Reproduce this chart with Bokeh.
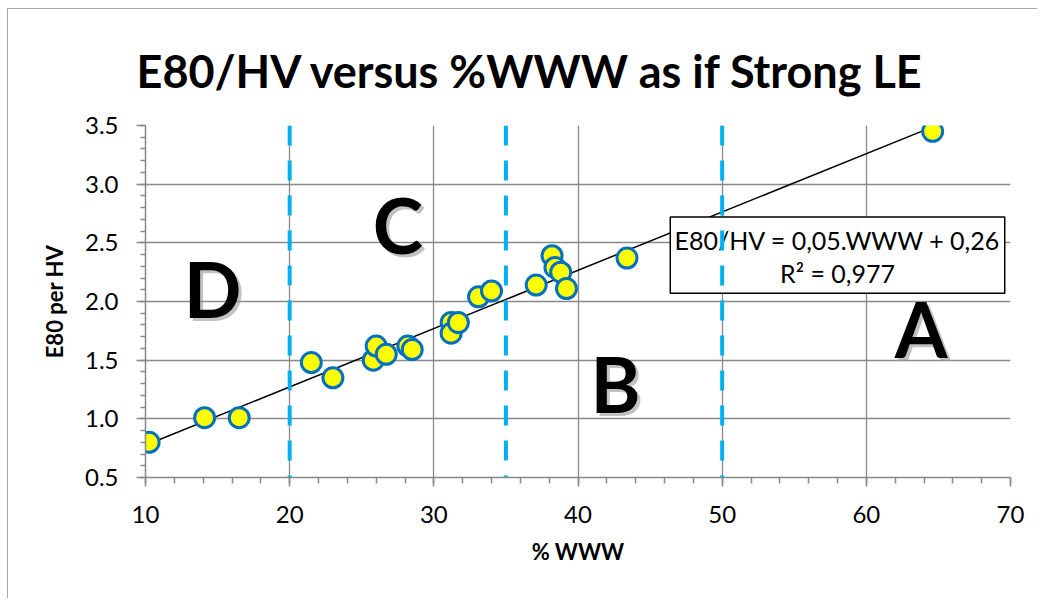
from bokeh.plotting import figure
from bokeh.models import (FixedTicker, PrintfTickFormatter, Span, BoxAnnotation,
                          Label, Range1d, Title)
from bokeh.embed import file_html
from bokeh.resources import INLINE

# ---------------- data ----------------
www_pct = [10.25, 14.1, 16.5, 21.5, 23.0, 25.8, 26.0, 26.7, 28.2, 28.5,
           31.2, 31.2, 31.7, 33.1, 34.0, 37.1, 38.2, 38.4, 38.8, 39.2,
           43.4, 64.6]
e80_per_hv = [0.80, 1.01, 1.01, 1.48, 1.35, 1.50, 1.62, 1.55, 1.62, 1.59,
              1.82, 1.73, 1.82, 2.04, 2.09, 2.14, 2.39, 2.29, 2.25, 2.11,
              2.37, 3.45]

x_ticks = [10, 20, 30, 40, 50, 60, 70]
x_minor_ticks = [10, 12, 14, 16, 18, 20, 22, 24, 26, 28, 30, 32, 34, 36, 38, 40,
                 42, 44, 46, 48, 50, 52, 54, 56, 58, 60, 62, 64, 66, 68, 70]
y_ticks = [0.5, 1.0, 1.5, 2.0, 2.5, 3.0, 3.5]
y_minor_ticks = [0.5, 0.6, 0.7, 0.8, 0.9, 1.0, 1.1, 1.2, 1.3, 1.4, 1.5, 1.6,
                 1.7, 1.8, 1.9, 2.0, 2.1, 2.2, 2.3, 2.4, 2.5, 2.6, 2.7, 2.8,
                 2.9, 3.0, 3.1, 3.2, 3.3, 3.4, 3.5]

class_bounds = [20, 35, 50]
class_names = ["D", "C", "B", "A"]

# trendline coefficients
trend_slope = 0.0497
trend_intercept = 0.278

title_text = "E80/HV versus %WWW as if Strong LE"
x_label = "% WWW"
y_label = "E80 per HV"
eq_text = "E80/HV = 0,05.WWW + 0,26"
r2_text = "R\u00b2 = 0,977"

# ---------------- layout / style ----------------
FONT = "Lato"
GRID = "#898989"
class_label_pos = [(14.65, 2.11), (27.5, 2.66), (42.6, 1.30), (63.8, 1.77)]
eq_box = dict(left=46.4, right=69.6, bottom=2.07, top=2.72)

p = figure(width=1030, height=590,
           x_range=Range1d(10, 70), y_range=Range1d(0.5, 3.5),
           output_backend="svg", toolbar_location=None,
           min_border_left=137, min_border_right=28,
           min_border_top=116, min_border_bottom=122,
           x_axis_label=x_label, y_axis_label=y_label)
p.outline_line_color = None
p.background_fill_color = "white"
p.border_fill_color = "white"
p.styles = {"margin-left": "7px", "margin-top": "8px",
            "border-left": "1px solid #a6a6a6", "border-top": "1px solid #a6a6a6"}

p.title = Title(text=title_text, align="left", offset=-9, standoff=56,
                vertical_align="bottom", text_font=FONT,
                text_font_style="bold", text_font_size="45px",
                text_color="black")

xt = FixedTicker(ticks=x_ticks, minor_ticks=x_minor_ticks)
yt = FixedTicker(ticks=y_ticks, minor_ticks=y_minor_ticks)
p.xaxis.ticker = xt
p.yaxis.ticker = yt
p.xgrid.ticker = xt
p.ygrid.ticker = yt
p.yaxis.formatter = PrintfTickFormatter(format="%.1f")

for ax in (p.xaxis[0], p.yaxis[0]):
    ax.axis_line_color = GRID
    ax.axis_line_width = 1.5
    ax.major_tick_line_color = GRID
    ax.major_tick_line_width = 1.5
    ax.minor_tick_line_color = GRID
    ax.minor_tick_line_width = 1.5
    ax.major_tick_in = 0
    ax.minor_tick_in = 0
    ax.major_label_text_font = FONT
    ax.major_label_text_font_size = "24px"
    ax.major_label_text_color = "black"
    ax.axis_label_text_font = FONT
    ax.axis_label_text_font_style = "bold"
    ax.axis_label_text_font_size = "22px"
    ax.axis_label_text_color = "black"

p.xaxis.major_tick_out = 9
p.xaxis.minor_tick_out = 6
p.xaxis.major_label_standoff = 19
p.xaxis.axis_label_standoff = 12
p.yaxis.major_tick_out = 9
p.yaxis.minor_tick_out = 5
p.yaxis.major_label_standoff = 18
p.yaxis.axis_label_standoff = 14

for g in (p.xgrid[0], p.ygrid[0]):
    g.grid_line_color = GRID
    g.grid_line_width = 1.3

# trendline (black) from the smallest to the largest %WWW
x_end = [min(www_pct), max(www_pct)]
p.line(x_end, [trend_intercept + trend_slope * v for v in x_end],
       line_color="black", line_width=1.5)

# data points
p.scatter(www_pct, e80_per_hv, size=20, fill_color="#FFFF00",
          line_color="#0070C0", line_width=3)

# equation box
p.add_layout(BoxAnnotation(**eq_box, fill_color="white", fill_alpha=1.0,
                           line_color="black", line_width=1.5, line_alpha=1.0))
cx = (eq_box["left"] + eq_box["right"]) / 2
p.add_layout(Label(x=cx, y=2.528, text=eq_text, text_align="center",
                   text_baseline="middle", text_font=FONT,
                   text_font_size="25px", text_color="black"))
p.add_layout(Label(x=cx, y=2.247, text=r2_text, text_align="center",
                   text_baseline="middle", text_font=FONT,
                   text_font_size="25px", text_color="black"))

# class boundaries
for b in class_bounds:
    p.add_layout(Span(location=b, dimension="height", line_color="#00B0F0",
                      line_width=4, line_dash="20 15"))

# class letters with shadow
for name, (lx, ly) in zip(class_names, class_label_pos):
    p.add_layout(Label(x=lx, y=ly, x_offset=3, y_offset=-3, text=name,
                       text_align="center", text_baseline="middle",
                       text_font=FONT, text_font_style="bold",
                       text_font_size="76px", text_color="#9a9a9a",
                       text_alpha=0.6))
    p.add_layout(Label(x=lx, y=ly, text=name,
                       text_align="center", text_baseline="middle",
                       text_font=FONT, text_font_style="bold",
                       text_font_size="76px", text_color="black"))

open("out.html", "w").write(file_html(p, INLINE))
